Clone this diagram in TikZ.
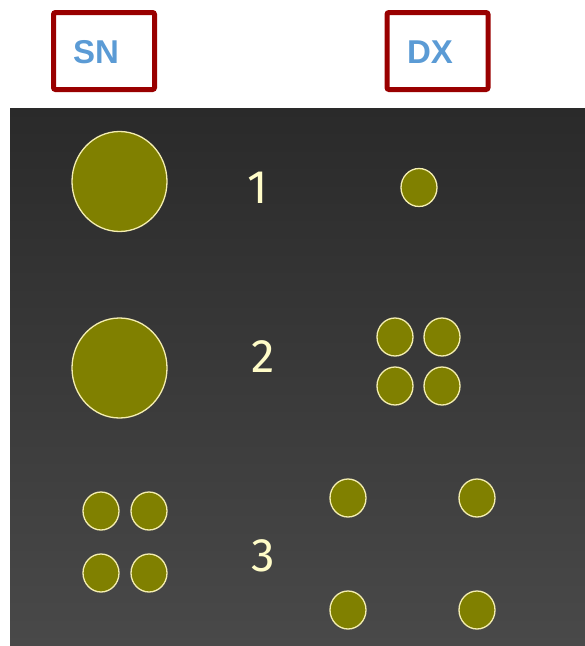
\documentclass[tikz,border=0pt]{standalone}
\usepackage{fontspec}
\setmainfont{Liberation Sans}
\newfontfamily\numfont{Fira Sans}
\usetikzlibrary{positioning}
\definecolor{boxred}{HTML}{990000}
\definecolor{sideblue}{HTML}{5B9BD5}
\definecolor{olivefill}{HTML}{808000}
\definecolor{creamline}{HTML}{F4EEB0}
\definecolor{numcream}{HTML}{FFFCC8}
\definecolor{paneltop}{HTML}{2A2A2A}
\definecolor{panelbot}{HTML}{494949}
\tikzset{
  sidebox/.style={draw=boxred, line width=5pt, rounded corners=2pt, minimum width=101pt, minimum height=77pt, inner sep=0pt},
  sidetext/.style={text=sideblue, font=\fontsize{33}{33}\selectfont\bfseries},
  rownum/.style={text=numcream, font=\numfont\fontsize{47}{47}\selectfont},
  ball/.style={fill=olivefill, draw=creamline, line width=1.3pt}
}

\begin{document}
\begin{tikzpicture}[x=1pt, y=-1pt]
\useasboundingbox (0,0) rectangle (585,646);
% dark panel
\shade[top color=paneltop, bottom color=panelbot] (10,108) rectangle (585,646);

% headers
\node[sidebox] (sn) at (104,51) {};
\node[sidetext] (snlab) at (96,52) {SN};
\node[sidebox] (dx) at (437.5,51) {};
\node[sidetext] (dxlab) at (430,52) {DX};

% row numbers
\node[rownum] (one) at (258,188) {1};
\node[rownum] (two) at (263,357) {2};
\node[rownum] (three) at (263,556) {3};

% row 1
\draw[ball] (119.5,181.5) ellipse [x radius=47.5, y radius=50];
\draw[ball] (419,187.5) ellipse [x radius=18, y radius=19];

% row 2
\draw[ball] (119.5,368) ellipse [x radius=47.5, y radius=50];
\foreach \x in {395,442}
  \foreach \y in {337,386}
    \draw[ball] (\x,\y) ellipse [x radius=18, y radius=19];

% row 3
\foreach \x in {101,149}
  \foreach \y in {511,573}
    \draw[ball] (\x,\y) ellipse [x radius=18, y radius=19];
\foreach \x in {348,477}
  \foreach \y in {498,610}
    \draw[ball] (\x,\y) ellipse [x radius=18, y radius=19];
\end{tikzpicture}
\end{document}
